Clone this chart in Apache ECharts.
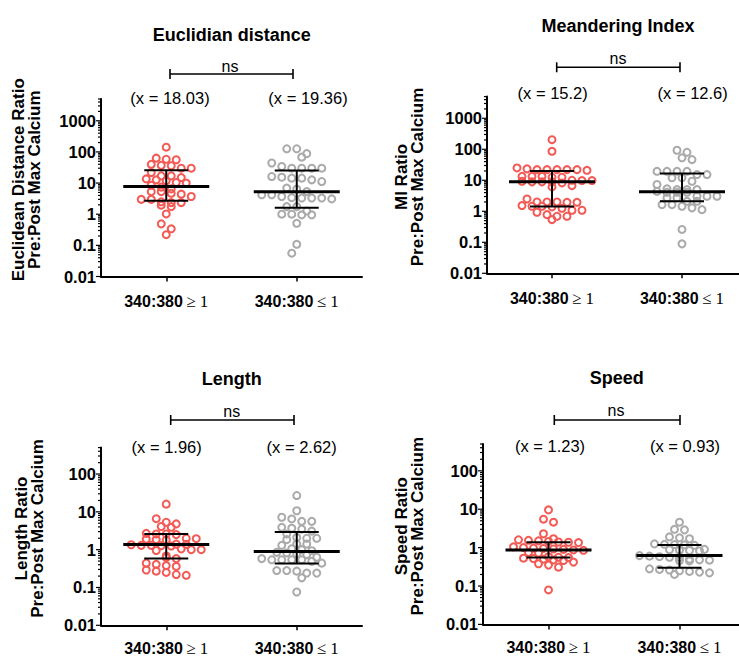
<!DOCTYPE html>
<html><head><meta charset="utf-8">
<script src="https://cdn.jsdelivr.net/npm/echarts@6/dist/echarts.min.js"></script>
<style>html,body{margin:0;padding:0;background:#fff}#c{width:739px;height:659px}</style>
</head><body><div id="c"></div>
<script>
// ---------------- DATA ----------------
const categories = ['340:380 ≥ 1', '340:380 ≤ 1'];
const panelTitles = ['Euclidian distance', 'Meandering Index', 'Length', 'Speed'];
const yNames = [
  'Euclidean Distance Ratio\nPre:Post Max Calcium',
  'MI Ratio\nPre:Post Max Calcium',
  'Length Ratio\nPre:Post Max Calcium',
  'Speed Ratio\nPre:Post Max Calcium'
];
const meanLabels = [
  ['(x = 18.03)', '(x = 19.36)'],
  ['(x = 15.2)', '(x = 12.6)'],
  ['(x = 1.96)', '(x = 2.62)'],
  ['(x = 1.23)', '(x = 0.93)']
];
const sigLabels = ['ns', 'ns', 'ns', 'ns'];
const yMin = 0.01;
const yMax = [5000, 5000, 500, 500];

// Euclidean distance ratio
const edHigh = [142, 63, 58, 56, 40, 37, 36, 30, 30, 21.8, 17, 17, 15, 13.6, 12.7, 11.8, 10.4, 10, 8.5, 7.4, 6.5, 5.3, 5.3, 4.7, 4.4, 3.7, 3.0, 3.0, 2.5, 2.36, 2.36, 1.95, 1.75, 1.02, 0.49, 0.34, 0.22];
const edLow = [126, 126, 88, 68, 44, 34, 30, 30, 30, 30, 16.2, 15.4, 14.4, 14.4, 12.7, 11.2, 6.9, 6.4, 5.3, 4.2, 4.2, 3.7, 3.4, 3.3, 3.3, 3.3, 3.1, 1.75, 1.75, 1.27, 1.0, 1.0, 0.95, 0.95, 0.51, 0.108, 0.056];
// Meandering index ratio
const miHigh = [204, 86, 25, 23.4, 22, 22, 22, 22, 22, 21, 13.4, 13.4, 13.4, 12.5, 12.5, 10, 9.8, 9.8, 9.3, 8.9, 8.9, 8.9, 8.2, 6.7, 6.1, 2.5, 2.0, 2.0, 2.0, 1.95, 1.95, 1.53, 1.45, 1.45, 1.39, 1.25, 1.08, 1.08, 0.93, 0.78, 0.69, 0.69, 0.54];
const miLow = [93, 80, 53, 46.5, 19.5, 19.5, 19.5, 19.5, 15.3, 15.3, 12, 12, 9.3, 7.3, 5.3, 5.0, 5.0, 5.0, 4.4, 4.1, 4.1, 4.1, 3.05, 3.05, 3.05, 2.7, 2.7, 2.1, 2.1, 1.64, 1.64, 1.45, 1.29, 1.13, 0.26, 0.089];
// Length ratio
const lenHigh = [16, 6.6, 5.3, 4.8, 4.1, 3.9, 2.7, 2.6, 2.6, 2.5, 2.0, 1.95, 1.9, 1.85, 1.8, 1.4, 1.38, 1.35, 1.3, 1.3, 1.28, 1.25, 1.05, 1.0, 1.0, 0.95, 0.68, 0.62, 0.58, 0.44, 0.41, 0.38, 0.36, 0.29, 0.27, 0.25, 0.22, 0.21];
const lenLow = [27, 10.7, 7.2, 6.5, 5.6, 5.6, 3.9, 3.7, 3.5, 3.1, 2.6, 2.1, 2.0, 2.0, 1.84, 1.41, 1.41, 1.3, 1.06, 1.0, 0.94, 0.85, 0.82, 0.77, 0.74, 0.63, 0.58, 0.54, 0.54, 0.54, 0.54, 0.49, 0.44, 0.28, 0.28, 0.27, 0.24, 0.24, 0.18, 0.076];
// Speed ratio
const spHigh = [9.6, 5.5, 4.6, 2.3, 1.7, 1.6, 1.55, 1.5, 1.45, 1.4, 1.38, 1.35, 1.05, 1.0, 0.97, 0.95, 0.92, 0.9, 0.87, 0.85, 0.75, 0.72, 0.58, 0.56, 0.55, 0.53, 0.52, 0.5, 0.48, 0.46, 0.42, 0.38, 0.35, 0.31, 0.079];
const spLow = [4.6, 3.0, 2.9, 1.9, 1.8, 1.7, 1.25, 1.22, 1.2, 1.18, 1.15, 0.9, 0.88, 0.86, 0.84, 0.82, 0.62, 0.6, 0.58, 0.56, 0.55, 0.5, 0.48, 0.47, 0.46, 0.45, 0.28, 0.27, 0.26, 0.25, 0.24, 0.23, 0.22, 0.2];

// median and interquartile range per group
const medians = [[7.8, 5.25], [8.9, 4.3], [1.36, 0.9], [0.87, 0.62]];
const q1s = [[2.7, 1.6], [1.42, 2.1], [0.58, 0.43], [0.55, 0.30]];
const q3s = [[26, 25.5], [20, 16.4], [2.6, 2.94], [1.38, 1.17]];

const groupData = [[edHigh, edLow], [miHigh, miLow], [lenHigh, lenLow], [spHigh, spLow]];

// ---------------- LAYOUT / STYLE ----------------
const colors = ['#f45a55', '#aaaaaa'];
const FONT = '"Liberation Sans", Arial, sans-serif';
const grids = [
  { left: 101, top: 99, width: 261, height: 177.5 },
  { left: 487, top: 96.6, width: 260, height: 176.7 },
  { left: 101, top: 447.6, width: 261, height: 177.7 },
  { left: 483, top: 444, width: 262, height: 180.4 }
];
const nameGaps = [59, 62, 56, 58];
const catMargins = [17, 17, 15, 15];
const titlePos = [[231.7, 26], [618, 17], [231.7, 370], [616.7, 369]];
const nsPos = [
  { tx: 230, ty: 66, x1: 170, x2: 293, y: 74 },
  { tx: 618, ty: 58, x1: 556.7, x2: 680, y: 67.3 },
  { tx: 231.7, ty: 411, x1: 170.7, x2: 294, y: 420 },
  { tx: 616, ty: 410, x1: 554.3, x2: 680, y: 420 }
];
const meanPos = [
  [[170, 98], [308, 98]],
  [[552.7, 93], [692.7, 93]],
  [[166.7, 446.7], [301.7, 446.7]],
  [[550, 446], [685, 446]]
];

const chart = echarts.init(document.getElementById('c'), null, { renderer: 'svg', width: 739, height: 659 });

function fmtLog(v) {
  const l = Math.log10(v);
  if (Math.abs(l - Math.round(l)) > 1e-6) return '';
  return String(parseFloat(Number(v).toPrecision(6)));
}

function tickValues(max) {
  const out = [];
  for (let k = -2; k <= 4; k++) {
    for (let m = 1; m <= 9; m++) {
      const v = parseFloat((m * Math.pow(10, k)).toPrecision(6));
      if (v >= yMin - 1e-12 && v <= max + 1e-9) out.push([m === 1 ? 1 : 0, v]);
    }
  }
  return out;
}

function buildOption(points) {
  const xAxis = [], yAxis = [], series = [], graphic = [], title = [];
  grids.forEach((g, i) => {
    xAxis.push({
      type: 'category', gridIndex: i, data: categories, boundaryGap: true, position: 'bottom',
      axisLine: { show: true, onZero: false, lineStyle: { color: '#000', width: 2 } },
      axisTick: { show: true, alignWithLabel: true, length: 5, lineStyle: { color: '#000', width: 1.5 } },
      splitLine: { show: false },
      axisLabel: {
        margin: catMargins[i], color: '#000', lineHeight: 16,
        formatter: (v) => { const k = v.indexOf(' '); return '{b|' + v.slice(0, k) + '} {s|' + v.slice(k + 1) + '}'; },
        rich: {
          b: { fontFamily: FONT, fontWeight: 'bold', fontSize: 16, lineHeight: 16, color: '#000' },
          s: { fontFamily: '"Liberation Serif", "Times New Roman", serif', fontSize: 17, lineHeight: 16, color: '#000' }
        }
      }
    });
    xAxis.push({ type: 'value', gridIndex: i, min: -0.5, max: 1.5, show: false, position: 'top' });
    yAxis.push({
      type: 'log', logBase: 10, gridIndex: i, min: yMin, max: yMax[i],
      axisLine: { show: true, onZero: false, lineStyle: { color: '#000', width: 2 } },
      axisTick: { show: false },
      splitLine: { show: false },
      minorTick: { show: false },
      axisLabel: { margin: 5, color: '#000', fontSize: 16.5, fontWeight: 'bold', fontFamily: FONT, formatter: fmtLog, showMinLabel: true, showMaxLabel: true },
      name: yNames[i], nameLocation: 'middle', nameRotate: 90, nameGap: nameGaps[i],
      nameTextStyle: { fontFamily: FONT, fontWeight: 'bold', fontSize: 17, lineHeight: 16, color: '#000', align: 'center', padding: [0, 0, 0, 16] }
    });
    title.push({
      text: panelTitles[i], left: titlePos[i][0], top: titlePos[i][1], textAlign: 'center', padding: 0,
      textStyle: { fontFamily: FONT, fontWeight: 'bold', fontSize: 18, color: '#000' }
    });
    // dots
    [0, 1].forEach((gi) => {
      series.push({
        type: 'scatter', xAxisIndex: 2 * i + 1, yAxisIndex: i, silent: true, z: 2,
        symbol: 'circle', symbolSize: 7,
        itemStyle: { color: 'rgba(255,255,255,0)', borderColor: colors[gi], borderWidth: 2, opacity: 1 },
        data: points[i][gi]
      });
    });
    // median + IQR bars
    series.push({
      type: 'custom', xAxisIndex: 2 * i + 1, yAxisIndex: i, silent: true, z: 5, clip: false,
      data: [0, 1].map((gi) => [gi, medians[i][gi], q1s[i][gi], q3s[i][gi]]),
      renderItem: (params, api) => {
        const x = api.value(0);
        const pm = api.coord([x, api.value(1)]);
        const p1 = api.coord([x, api.value(2)]);
        const p3 = api.coord([x, api.value(3)]);
        const st = (w) => ({ stroke: '#000', lineWidth: w });
        return {
          type: 'group', children: [
            { type: 'line', shape: { x1: pm[0], y1: p1[1], x2: pm[0], y2: p3[1] }, style: st(2) },
            { type: 'line', shape: { x1: pm[0] - 22, y1: p1[1], x2: pm[0] + 22, y2: p1[1] }, style: st(2) },
            { type: 'line', shape: { x1: pm[0] - 22, y1: p3[1], x2: pm[0] + 22, y2: p3[1] }, style: st(2) },
            { type: 'line', shape: { x1: pm[0] - 43, y1: pm[1], x2: pm[0] + 43, y2: pm[1] }, style: st(3) }
          ]
        };
      }
    });
    // log ticks (major + minor)
    series.push({
      type: 'custom', xAxisIndex: 2 * i + 1, yAxisIndex: i, silent: true, z: 4, clip: false,
      encode: { x: -1, y: 1 },
      data: tickValues(yMax[i]).map((t) => [-0.5, t[1], t[0]]),
      renderItem: (params, api) => {
        const p = api.coord([-0.5, api.value(1)]);
        const len = api.value(2) ? 5 : 3;
        return { type: 'line', shape: { x1: p[0] - len, y1: p[1], x2: p[0], y2: p[1] }, style: { stroke: '#000', lineWidth: 1.2 } };
      }
    });
    // annotations
    const n = nsPos[i];
    graphic.push({ type: 'text', x: n.tx, y: n.ty, style: { text: sigLabels[i], font: '16px ' + FONT, fill: '#000', align: 'center', verticalAlign: 'middle', textAlign: 'center', textVerticalAlign: 'middle' } });
    graphic.push({ type: 'line', shape: { x1: n.x1, y1: n.y, x2: n.x2, y2: n.y }, style: { stroke: '#000', lineWidth: 1.6 } });
    graphic.push({ type: 'line', shape: { x1: n.x1, y1: n.y - 5, x2: n.x1, y2: n.y + 5 }, style: { stroke: '#000', lineWidth: 1.6 } });
    graphic.push({ type: 'line', shape: { x1: n.x2, y1: n.y - 5, x2: n.x2, y2: n.y + 5 }, style: { stroke: '#000', lineWidth: 1.6 } });
    [0, 1].forEach((gi) => {
      const mp = meanPos[i][gi];
      graphic.push({ type: 'text', x: mp[0], y: mp[1], style: { text: meanLabels[i][gi], font: '16.5px ' + FONT, fill: '#000', align: 'center', verticalAlign: 'middle', textAlign: 'center', textVerticalAlign: 'middle' } });
    });
  });
  return {
    animation: false, backgroundColor: '#ffffff',
    title, grid: grids.map((g) => Object.assign({ containLabel: false, outerBoundsMode: 'none' }, g)),
    xAxis, yAxis, series, graphic
  };
}

// first pass: every dot on its category centre
const initial = groupData.map((pair) => pair.map((vals, gi) => vals.map((v) => [gi, v])));
chart.setOption(buildOption(initial));

// Prism-style column scatter: points whose pixel heights are close share a row,
// spaced one symbol apart; uses the chart's own scales for the conversion.
function swarm(vals, i, gi) {
  const finder = { xAxisIndex: 2 * i + 1, yAxisIndex: i };
  const d = 10, h = 5.5, maxRow = 8;
  const unit = chart.convertToPixel(finder, [1, 1])[0] - chart.convertToPixel(finder, [0, 1])[0];
  const pts = vals.map((v) => ({ v, y: chart.convertToPixel(finder, [gi, v])[1], x: 0 }));
  const order = pts.slice().sort((a, b) => a.y - b.y);
  const rows = [];
  let cur = null;
  order.forEach((p) => {
    if (!cur || p.y - cur.y0 > h || cur.pts.length >= maxRow) { cur = { y0: p.y, pts: [] }; rows.push(cur); }
    cur.pts.push(p);
  });
  let prev = null, flip = 1;
  rows.forEach((r) => {
    const n = r.pts.length;
    let shift = 0;
    if (prev && r.y0 - prev.y0 < d && (n - prev.pts.length) % 2 === 0) { shift = flip * d / 2; flip = -flip; }
    r.pts.forEach((p, k) => { p.x = (k - (n - 1) / 2) * d + shift; });
    prev = r;
  });
  return pts.map((p) => [gi + p.x / unit, p.v]);
}
const swarmed = groupData.map((pair, i) => pair.map((vals, gi) => swarm(vals, i, gi)));
chart.setOption(buildOption(swarmed), true);
</script>
</body></html>
